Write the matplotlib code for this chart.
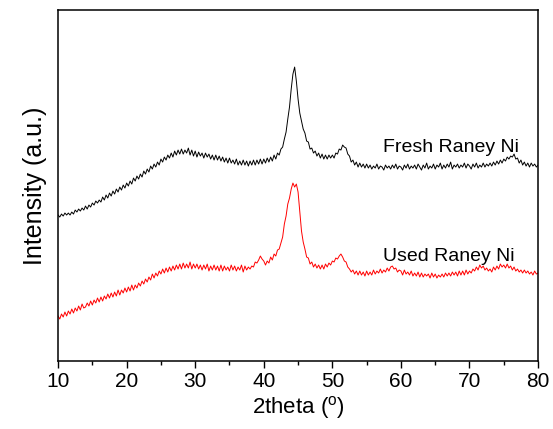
import numpy as np
import matplotlib
matplotlib.use('Agg')
import matplotlib.pyplot as plt
from matplotlib.ticker import MultipleLocator

plt.rcParams['font.family'] = ['Liberation Sans', 'DejaVu Sans']
plt.rcParams['mathtext.fontset'] = 'custom'
plt.rcParams['mathtext.rm'] = 'Liberation Sans'

# 2theta sampled every 0.25 deg from 10 to 80
two_theta = np.linspace(10, 80, 281)

# intensities (arbitrary units), 4 samples per degree
fresh = [
    146, 144, 147, 145, 148, 146, 148, 146, 149, 147, 151, 149,
    152, 150, 153, 151, 155, 152, 156, 154, 158, 156, 160, 158,
    161, 159, 164, 161, 166, 163, 168, 165, 170, 167, 172, 169,
    174, 171, 176, 173, 178, 175, 180, 177, 183, 180, 185, 182,
    187, 184, 190, 187, 192, 189, 195, 192, 197, 194, 199, 196,
    202, 199, 204, 201, 206, 203, 208, 204, 210, 206, 211, 207,
    212, 207, 211, 208, 213, 206, 211, 205, 210, 204, 209, 205,
    208, 203, 208, 204, 207, 202, 206, 201, 206, 201, 205, 200,
    204, 199, 203, 198, 203, 198, 201, 197, 202, 196, 200, 196,
    201, 196, 200, 195, 200, 196, 201, 196, 201, 197, 202, 197,
    202, 198, 203, 199, 204, 200, 206, 202, 208, 206, 212, 214,
    222, 229, 242, 254, 272, 287, 294, 280, 262, 248, 240, 232,
    228, 220, 219, 212, 213, 208, 210, 205, 208, 203, 207, 202,
    206, 202, 206, 203, 206, 203, 208, 207, 212, 211, 216, 214,
    213, 207, 205, 199, 201, 196, 199, 194, 198, 194, 197, 193,
    197, 193, 196, 192, 195, 193, 197, 192, 195, 194, 191, 196,
    193, 195, 192, 196, 193, 197, 192, 195, 194, 191, 196, 193,
    197, 192, 195, 193, 196, 192, 197, 194, 191, 196, 193, 198,
    192, 195, 193, 197, 192, 196, 194, 198, 192, 196, 193, 197,
    194, 199, 192, 196, 194, 197, 193, 196, 194, 198, 193, 197,
    195, 192, 197, 194, 198, 193, 196, 194, 198, 194, 197, 195,
    198, 195, 199, 196, 200, 197, 201, 198, 202, 200, 204, 202,
    205, 204, 207, 202, 203, 198, 201, 196, 199, 195, 198, 194,
    198, 195, 197, 194, 196,
]

used = [
    45, 42, 47, 44, 49, 45, 50, 47, 52, 48, 53, 50,
    55, 51, 57, 53, 54, 58, 55, 60, 56, 61, 58, 63,
    59, 64, 60, 65, 62, 67, 63, 68, 64, 69, 65, 71,
    66, 71, 68, 73, 69, 74, 70, 76, 71, 76, 73, 78,
    75, 80, 77, 82, 79, 84, 81, 87, 83, 88, 85, 90,
    87, 92, 88, 93, 89, 94, 90, 95, 91, 96, 92, 97,
    92, 98, 93, 97, 93, 99, 92, 97, 93, 97, 92, 96,
    91, 96, 92, 97, 90, 95, 91, 96, 91, 95, 90, 96,
    90, 95, 91, 94, 90, 96, 91, 95, 90, 94, 91, 96,
    89, 95, 91, 94, 92, 95, 94, 99, 98, 101, 105, 102,
    100, 96, 100, 98, 104, 101, 107, 105, 111, 112, 118, 124,
    137, 145, 157, 163, 172, 178, 174, 177, 169, 150, 130, 119,
    112, 104, 103, 97, 99, 94, 97, 93, 96, 92, 96, 92,
    97, 94, 98, 96, 100, 99, 103, 102, 105, 107, 104, 100,
    99, 94, 92, 89, 91, 87, 90, 86, 90, 86, 89, 85,
    90, 86, 89, 86, 91, 87, 90, 88, 92, 88, 91, 89,
    93, 90, 94, 95, 92, 93, 89, 91, 90, 86, 91, 87,
    89, 86, 90, 85, 88, 85, 89, 84, 88, 84, 87, 85,
    87, 83, 88, 84, 87, 83, 86, 84, 87, 84, 88, 85,
    88, 85, 89, 86, 89, 85, 90, 86, 90, 86, 91, 87,
    90, 88, 92, 90, 94, 91, 96, 93, 95, 91, 93, 90,
    92, 89, 94, 91, 95, 92, 97, 94, 96, 93, 97, 93,
    95, 91, 94, 90, 92, 89, 91, 88, 91, 88, 90, 87,
    89, 86, 90, 87, 88,
]

labels = ['Fresh Raney Ni', 'Used Raney Ni']

fig = plt.figure(figsize=(5.53, 4.29), dpi=100)
ax = fig.add_axes([0.105, 0.1585, 0.868, 0.818])

ax.plot(two_theta, fresh, color='black', lw=0.7)
ax.plot(two_theta, used, color='red', lw=0.7)

ax.text(57.4, 214, labels[0], fontsize=14, va='center', ha='left')
ax.text(57.4, 105, labels[1], fontsize=14, va='center', ha='left')

ax.set_xlim(10, 80)
ax.set_ylim(0, 351)
ax.xaxis.set_major_locator(MultipleLocator(10))
ax.xaxis.set_minor_locator(MultipleLocator(5))
ax.tick_params(axis='x', which='major', direction='out', length=5, width=1,
               labelsize=15, pad=3)
ax.tick_params(axis='x', which='minor', direction='out', length=3, width=1)
ax.set_yticks([])
for s in ax.spines.values():
    s.set_linewidth(1.1)

ax.set_xlabel('2theta ($^{\\mathregular{o}}$)', fontsize=16, labelpad=2)
ax.set_ylabel('Intensity (a.u.)', fontsize=18, labelpad=8)

fig.savefig('out.png', dpi=100)
